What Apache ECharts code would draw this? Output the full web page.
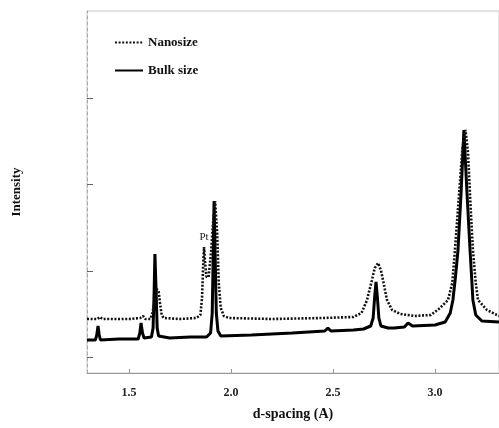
<!DOCTYPE html>
<html>
<head>
<meta charset="utf-8">
<script src="https://cdn.jsdelivr.net/npm/echarts@6/dist/echarts.min.js"></script>
<style>
  html, body { margin: 0; padding: 0; background: #fff; }
  #chart { width: 499px; height: 428px; }
</style>
</head>
<body>
<div id="chart"></div>
<script>
// d-spacing (A), intensity (arb. units)
var nanoD = [1.294, 1.345, 1.357, 1.37, 1.50, 1.555, 1.569, 1.58, 1.605, 1.615, 1.625, 1.635, 1.645, 1.652, 1.66, 1.67,
    1.75, 1.83, 1.850, 1.858, 1.864, 1.868, 1.873, 1.880, 1.890, 1.902, 1.912, 1.922, 1.932, 1.940, 1.950, 1.965, 1.99,
    2.2, 2.45, 2.60, 2.64, 2.667, 2.69, 2.705, 2.721, 2.735, 2.750, 2.765, 2.79, 2.83, 2.90, 2.98,
    3.025, 3.064, 3.085, 3.098, 3.115, 3.135, 3.150, 3.162, 3.175, 3.186, 3.20, 3.211, 3.255, 3.314];
var nanoI = [54, 54, 56, 54, 54, 55, 57, 54, 54, 60, 72, 84, 82, 70, 58, 55,
    54, 55, 58, 75, 110, 126, 110, 96, 96, 120, 150, 172, 140, 90, 65, 57, 55,
    54, 55, 56, 60, 73, 92, 105, 110, 103, 88, 73, 63, 59, 57, 58,
    65, 73, 90, 123, 170, 225, 243, 220, 165, 123, 90, 73, 63, 57];

var bulkD = [1.294, 1.335, 1.342, 1.348, 1.354, 1.360, 1.45, 1.545, 1.553, 1.559, 1.566, 1.574, 1.610, 1.618, 1.623,
    1.627, 1.633, 1.638, 1.645, 1.70, 1.80, 1.88, 1.900, 1.908, 1.913, 1.917, 1.922, 1.928, 1.936, 1.95, 2.1, 2.3,
    2.46, 2.475, 2.49, 2.6, 2.65, 2.685, 2.697, 2.704, 2.711, 2.718, 2.725, 2.735, 2.77, 2.80, 2.85, 2.868, 2.89,
    3.00, 3.05, 3.075, 3.088, 3.10, 3.113, 3.128, 3.142, 3.157, 3.172, 3.180, 3.186, 3.20, 3.23, 3.314];
var bulkI = [33, 33, 38, 47, 38, 33, 34, 34, 40, 50, 40, 35, 36, 45, 80,
    119, 80, 45, 37, 35, 36, 36, 40, 60, 120, 172, 120, 60, 42, 37, 38, 40,
    42, 45, 42, 43, 44, 47, 55, 75, 91, 75, 55, 47, 45, 45, 46, 50, 47,
    48, 51, 60, 73, 95, 123, 180, 243, 180, 123, 95, 73, 58, 52, 51];

var xTicks = [1.5, 2.0, 2.5, 3.0];
var yTicks = [16, 102, 189, 275];

function pairs(xs, ys) {
    var out = [];
    for (var i = 0; i < xs.length; i++) out.push([xs[i], ys[i]]);
    return out;
}

var font = 'Liberation Serif';
var hidden = { color: 'rgba(0,0,0,0)', borderColor: 'rgba(0,0,0,0)', borderWidth: 0 };
var chart = echarts.init(document.getElementById('chart'));
chart.setOption({
    animation: false,
    backgroundColor: '#fff',
    grid: { left: 87, right: -1, top: 11, bottom: 55, show: true, borderColor: '#c8c8c8', borderWidth: 1 },
    legend: {
        orient: 'vertical',
        left: 109,
        top: 31,
        itemWidth: 28,
        itemHeight: 12,
        itemGap: 15,
        itemStyle: hidden,
        textStyle: { fontFamily: font, fontWeight: 'bold', fontSize: 13, color: '#111' },
        data: [
            { name: 'Nanosize', itemStyle: hidden },
            { name: 'Bulk size', itemStyle: hidden }
        ]
    },
    xAxis: {
        type: 'value',
        min: 1.294,
        max: 3.314,
        name: 'd-spacing (A)',
        nameLocation: 'middle',
        nameGap: 34,
        nameTextStyle: { fontFamily: font, fontWeight: 'bold', fontSize: 14, color: '#111' },
        splitLine: { show: false },
        axisLine: { show: true, lineStyle: { color: '#999', width: 1 } },
        axisTick: { show: true, inside: true, length: 4, customValues: xTicks, lineStyle: { color: '#999' } },
        axisLabel: {
            customValues: xTicks,
            margin: 14,
            fontFamily: font, fontWeight: 'bold', fontSize: 12, color: '#222',
            formatter: function (v) { return v.toFixed(1); }
        }
    },
    yAxis: {
        type: 'value',
        min: 0,
        max: 362,
        name: 'Intensity',
        nameLocation: 'middle',
        nameGap: 64,
        nameRotate: 90,
        nameTextStyle: { fontFamily: font, fontWeight: 'bold', fontSize: 13, color: '#111' },
        splitLine: { show: false },
        axisLine: { show: true, lineStyle: { color: '#aaa', width: 1, type: [3, 3] } },
        axisTick: { show: true, inside: true, length: 6, customValues: yTicks, lineStyle: { color: '#666' } },
        axisLabel: { show: false }
    },
    series: [
        {
            name: 'Nanosize',
            type: 'line',
            data: pairs(nanoD, nanoI),
            showSymbol: false,
            symbol: 'none',
            z: 3,
            color: '#111',
            lineStyle: { color: '#111', width: 2.6, type: [2, 1.6] },
            markPoint: {
                symbol: 'circle',
                symbolSize: 0,
                data: [{ coord: [1.868, 128] }],
                label: {
                    show: true, position: 'top', formatter: 'Pt', distance: 2,
                    fontFamily: font, fontSize: 11, color: '#222'
                }
            }
        },
        {
            name: 'Bulk size',
            type: 'line',
            data: pairs(bulkD, bulkI),
            showSymbol: false,
            symbol: 'none',
            z: 2,
            color: '#000',
            lineStyle: { color: '#000', width: 3 }
        }
    ]
});
</script>
</body>
</html>
